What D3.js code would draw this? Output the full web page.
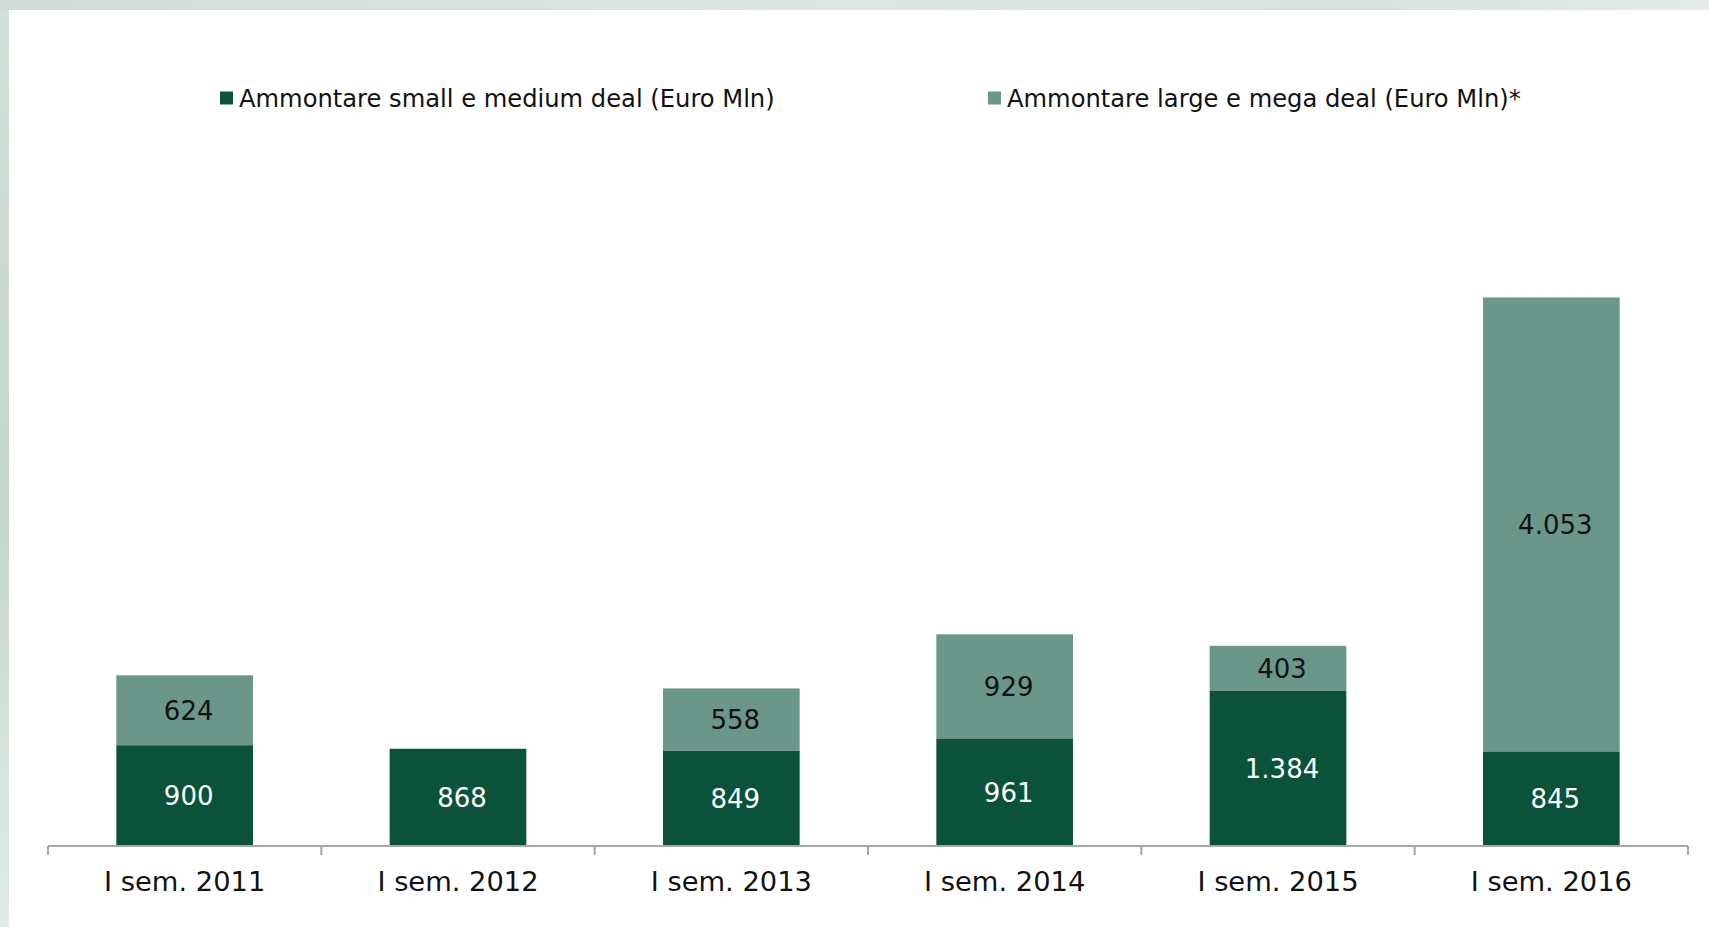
<!DOCTYPE html>
<html>
<head>
<meta charset="utf-8">
<script src="https://cdn.jsdelivr.net/npm/d3@7"></script>
<style>
  body { margin: 0; background: #fff; }
  svg { display: block; }
  text { font-family: "DejaVu Sans", Verdana, sans-serif; }
</style>
</head>
<body>
<svg id="chart"></svg>
<script>
// Data
var categories = ["I sem. 2011", "I sem. 2012", "I sem. 2013", "I sem. 2014", "I sem. 2015", "I sem. 2016"];
var smallMedium = [900, 868, 849, 961, 1384, 845];
var largeMega = [624, 0, 558, 929, 403, 4053];
var seriesNames = ["Ammontare small e medium deal (Euro Mln)", "Ammontare large e mega deal (Euro Mln)*"];
var seriesColors = ["#0b523a", "#6b978a"];
const W = 1709, H = 927;

var svg = d3.select("#chart").attr("width", W).attr("height", H);

// Slide background frame
var defs = svg.append("defs");
var gradLeft = defs.append("linearGradient").attr("id", "gLeft")
    .attr("x1", 0).attr("y1", 0).attr("x2", 0).attr("y2", 1);
gradLeft.append("stop").attr("offset", "0%").attr("stop-color", "#d3e0d9");
gradLeft.append("stop").attr("offset", "55%").attr("stop-color", "#c4d7cc");
gradLeft.append("stop").attr("offset", "100%").attr("stop-color", "#e2ebe6");
var gradTop = defs.append("linearGradient").attr("id", "gTop")
    .attr("x1", 0).attr("y1", 0).attr("x2", 1).attr("y2", 0);
gradTop.append("stop").attr("offset", "0%").attr("stop-color", "#d0ddd6");
gradTop.append("stop").attr("offset", "50%").attr("stop-color", "#dde6e1");
gradTop.append("stop").attr("offset", "80%").attr("stop-color", "#d6e2dc");
gradTop.append("stop").attr("offset", "100%").attr("stop-color", "#e4ece8");

svg.append("rect").attr("width", W).attr("height", H).attr("fill", "url(#gLeft)");
svg.append("rect").attr("width", W).attr("height", 10).attr("fill", "url(#gTop)");
svg.append("rect").attr("x", 9).attr("y", 10).attr("width", W - 9).attr("height", H - 10).attr("fill", "#ffffff");

// Scales
var margin = { left: 48, right: 21, top: 174, bottom: 81 };
var baseY = H - margin.bottom;

var xScale = d3.scaleBand()
    .domain(categories)
    .range([margin.left, W - margin.right])
    .paddingInner(0.5)
    .paddingOuter(0.25);

var yScale = d3.scaleLinear()
    .domain([0, 6000])
    .range([baseY, margin.top]);

// Stack the two series
var rows = categories.map(function (c, i) {
    return { cat: c, s0: smallMedium[i], s1: largeMega[i] };
});
var stacked = d3.stack().keys(["s0", "s1"])(rows);

var layers = svg.append("g").selectAll("g")
    .data(stacked)
    .join("g")
    .attr("fill", function (d, i) { return seriesColors[i]; });

layers.selectAll("rect")
    .data(function (d) { return d; })
    .join("rect")
    .attr("x", function (d) { return xScale(d.data.cat); })
    .attr("width", xScale.bandwidth())
    .attr("y", function (d) { return yScale(d[1]); })
    .attr("height", function (d) { return yScale(d[0]) - yScale(d[1]); });

// Value labels (Italian number format)
var fmt = d3.formatLocale({ decimal: ",", thousands: ".", grouping: [3], currency: ["€", ""] }).format(",d");

stacked.forEach(function (layer, li) {
    svg.append("g").selectAll("text")
        .data(layer.filter(function (d) { return d[1] - d[0] > 0; }))
        .join("text")
        .attr("x", function (d) { return xScale(d.data.cat) + xScale.bandwidth() / 2 + 4; })
        .attr("y", function (d) { return (yScale(d[0]) + yScale(d[1])) / 2; })
        .attr("dy", "0.36em")
        .attr("text-anchor", "middle")
        .attr("font-size", "26px")
        .attr("fill", li == 0 ? "#ffffff" : "#111111")
        .text(function (d) { return fmt(d[1] - d[0]); });
});

// X axis
var xAxis = svg.append("g")
    .attr("transform", `translate(0, ${baseY})`)
    .call(d3.axisBottom(xScale).tickSize(0).tickPadding(26));
xAxis.select(".domain").attr("stroke", "#a6a6a6").attr("stroke-width", 2).attr("d", `M${margin.left},0H${W - margin.right}`);
xAxis.selectAll(".tick text")
    .attr("font-size", "27.3px")
    .attr("font-family", "DejaVu Sans, Verdana, sans-serif")
    .attr("fill", "#111111");

// Category divider ticks
var dividers = d3.range(categories.length + 1).map(function (i) { return margin.left + i * xScale.step(); });
xAxis.selectAll(".divider")
    .data(dividers)
    .join("line")
    .attr("class", "divider")
    .attr("x1", function (d) { return d; })
    .attr("x2", function (d) { return d; })
    .attr("y1", 0)
    .attr("y2", 9)
    .attr("stroke", "#a6a6a6")
    .attr("stroke-width", 2);

// Legend
var legendX = [220, 988];
var legend = svg.append("g").selectAll("g")
    .data(seriesNames)
    .join("g")
    .attr("transform", function (d, i) { return `translate(${legendX[i]}, 98)`; });
legend.append("rect")
    .attr("x", 0).attr("y", -6.5)
    .attr("width", 13).attr("height", 13)
    .attr("fill", function (d, i) { return seriesColors[i]; });
legend.append("text")
    .attr("x", 19)
    .attr("dy", "0.36em")
    .attr("font-size", "24.2px")
    .attr("fill", "#111111")
    .text(function (d) { return d; });
</script>
</body>
</html>
